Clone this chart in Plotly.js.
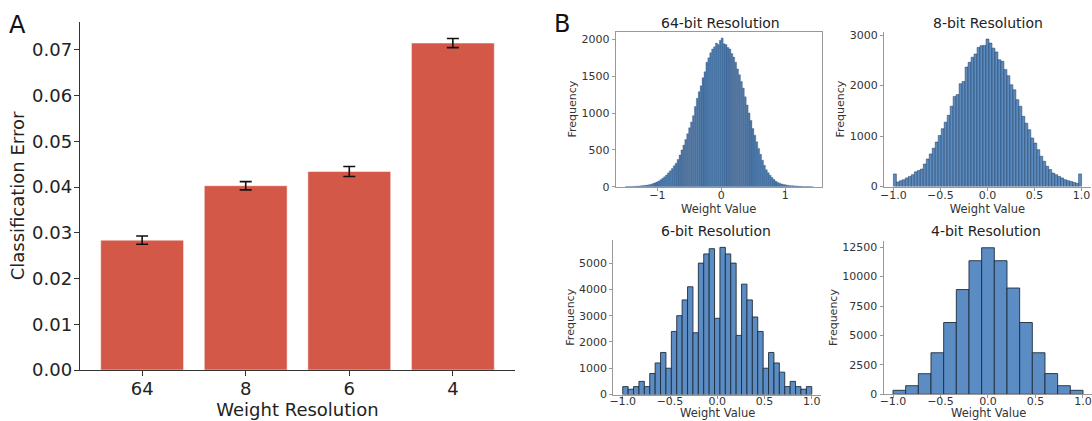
<!DOCTYPE html>
<html><head><meta charset="utf-8">
<script src="https://cdn.plot.ly/plotly-3.0.1.min.js"></script>
<style>html,body{margin:0;padding:0;background:#fff}#chart{width:1092px;height:421px}</style>
</head><body><div id="chart"></div><script>
// ---- Panel A data ----
const resolutions = ['64', '8', '6', '4'];
const classificationError = [0.0284, 0.0403, 0.0434, 0.0715];
const errorBars = [0.0009, 0.0009, 0.0011, 0.0010];

// ---- Panel B data (histogram bin counts) ----
const hist64Start = -1.5;
const hist64Width = 0.03;
const hist64Counts = [2,2,3,4,5,6,8,10,13,15, 18,22,27,33,42,52,63,78,95,115,
  135,160,188,215,248,285,320,370,430,500, 565,640,720,800,880,965,1090,1200,1290,1370,
  1480,1560,1690,1750,1820,1870,1900,1950,1930,1990,
  2020,1940,1930,1890,1870,1810,1760,1690,1600,1520, 1430,1340,1220,1110,1000,900,790,700,610,520,
  440,360,290,230,190,155,125,98,75,58, 46,38,30,25,20,17,14,12,10,8, 7,5,4,3,3,2,2,1];

const hist8Start = -1.0;
const hist8Width = 2 / 63;
const hist8Counts = [250,90,115,135,170,200,235,290,315,345,
  445,545,645,760,880,1010,1145,1275,1410,1590,
  1785,1820,2035,2080,2365,2460,2560,2625,2755,2790,
  2795,2920,2840,2740,2665,2510,2480,2315,2195,2015,
  1915,1720,1590,1390,1255,1125,960,860,730,600,
  500,400,335,265,235,200,170,135,115,100,
  80,65,250];

const hist6Start = -1.0;
const hist6Width = 2 / 35;
const hist6Counts = [300,200,300,500,300,800,1200,1600,1000,2400,3000,3600,4100,2350,5000,5350,5550,2900,
  5600,5350,5000,2250,4200,3600,2950,2400,1000,1600,1200,850,300,500,300,200,300];

const hist4Start = -1.0;
const hist4Width = 2 / 15;
const hist4Counts = [340,730,1750,3530,6100,8900,11350,12450,11350,9030,6100,3530,1760,730,340];

const histTitles = ['64-bit Resolution', '8-bit Resolution', '6-bit Resolution', '4-bit Resolution'];

// ---- drawing ----
const W = 1092, H = 421;
const px = x => x / W;
const py = y => 1 - y / H;
const FONT = 'DejaVu Sans, Liberation Sans, sans-serif';

function histTrace(start, width, counts, xa, ya, lineW, lineC, fill) {
  return {
    type: 'bar', x: counts.map((_, i) => start + (i + 0.5) * width), y: counts,
    width: width, xaxis: xa, yaxis: ya, hoverinfo: 'skip', showlegend: false,
    marker: {color: fill, line: {color: lineC, width: lineW}}
  };
}

const traces = [
  {type: 'bar', x: resolutions, y: classificationError, width: 0.8, xaxis: 'x', yaxis: 'y',
   marker: {color: '#d45848', line: {color: 'rgba(255,255,255,0.5)', width: 1}},
   error_y: {type: 'data', array: errorBars, visible: true, color: '#111', thickness: 1.6, width: 6},
   showlegend: false, hoverinfo: 'skip'},
  histTrace(hist64Start, hist64Width, hist64Counts, 'x2', 'y2', 0.4, 'rgba(40,70,110,0.7)', '#4c7aab'),
  histTrace(hist8Start, hist8Width, hist8Counts, 'x3', 'y3', 0.6, 'rgba(30,50,80,0.8)', '#5a8cc2'),
  histTrace(hist6Start, hist6Width, hist6Counts, 'x4', 'y4', 0.9, '#1e2c3c', '#5b8dc4'),
  histTrace(hist4Start, hist4Width, hist4Counts, 'x5', 'y5', 0.9, '#1e2c3c', '#5b8dc4')
];

const smallAxis = {
  showline: true, linecolor: '#999', linewidth: 1, ticks: 'outside', ticklen: 3, tickcolor: '#999',
  tickfont: {size: 11, color: '#333', family: FONT}, showgrid: false, zeroline: false, fixedrange: true
};
function sx(extra) { return Object.assign({}, smallAxis, extra); }
function xTitle() { return {text: 'Weight Value', font: {size: 11.5, color: '#333'}, standoff: 0}; }
function yTitle() { return {text: 'Frequency', font: {size: 11, color: '#333'}, standoff: 2}; }
function bottomXTitle(xc) {
  return {text: 'Weight Value', x: px(xc), y: 0, xanchor: 'center', yanchor: 'bottom', yshift: -1,
    xref: 'paper', yref: 'paper', showarrow: false, font: {size: 11.5, color: '#333'}};
}

const layout = {
  width: W, height: H, margin: {l: 0, r: 0, t: 0, b: 0}, paper_bgcolor: '#fff', plot_bgcolor: '#fff',
  font: {family: FONT, color: '#222'}, showlegend: false, bargap: 0,
  xaxis: {domain: [px(80), px(515)], anchor: 'y', type: 'category', range: [-0.6, 3.6],
    showline: true, linecolor: '#333', linewidth: 1.2, ticks: 'outside', ticklen: 5, tickcolor: '#333',
    tickfont: {size: 18, color: '#222'}, showgrid: false, zeroline: false, ticklabelstandoff: -3,
    title: {text: 'Weight Resolution', font: {size: 18, color: '#222'}, standoff: 3}},
  yaxis: {domain: [py(370), py(22)], anchor: 'x', range: [0, 0.0761], dtick: 0.01, tickformat: '.2f',
    showline: true, linecolor: '#333', linewidth: 1.2, ticks: 'outside', ticklen: 5, tickcolor: '#333',
    tickfont: {size: 18, color: '#222'}, showgrid: false, zeroline: false, ticklabelstandoff: -2,
    title: {text: 'Classification Error', font: {size: 18, color: '#222'}, standoff: 2}},

  xaxis2: sx({domain: [px(615.7), px(821.7)], anchor: 'y2', range: [-1.65, 1.57], dtick: 1, mirror: true,
    ticklabelstandoff: -5, title: xTitle()}),
  yaxis2: sx({domain: [py(186.7), py(31.7)], anchor: 'x2', range: [0, 2105], dtick: 500, mirror: true,
    tickformat: 'd', title: yTitle()}),

  xaxis3: sx({domain: [px(884), px(1091)], anchor: 'y3', range: [-1.1, 1.1], dtick: 0.5, tickformat: '.1f',
    ticklabelstandoff: -5, title: xTitle()}),
  yaxis3: sx({domain: [py(186.5), py(31.7)], anchor: 'x3', range: [0, 3066], dtick: 1000,
    tickformat: 'd', title: yTitle()}),

  xaxis4: sx({domain: [px(613.3), px(821.2)], anchor: 'y4', range: [-1.1, 1.1], dtick: 0.5, tickformat: '.1f',
    ticklabelstandoff: -7}),
  yaxis4: sx({domain: [py(394.5), py(240)], anchor: 'x4', range: [0, 5880], dtick: 1000,
    tickformat: 'd', title: yTitle()}),

  xaxis5: sx({domain: [px(883.5), px(1092)], anchor: 'y5', range: [-1.1, 1.095], dtick: 0.5, tickformat: '.1f',
    ticklabelstandoff: -7}),
  yaxis5: sx({domain: [py(394.3), py(240.7)], anchor: 'x5', range: [0, 13050], dtick: 2500,
    tickformat: 'd', title: yTitle()}),

  annotations: [
    {text: 'A', x: px(17), y: py(25), xanchor: 'center', yanchor: 'middle', xref: 'paper', yref: 'paper', showarrow: false, font: {size: 24, color: '#111'}},
    {text: 'B', x: px(562), y: py(24), xanchor: 'center', yanchor: 'middle', xref: 'paper', yref: 'paper', showarrow: false, font: {size: 24, color: '#111'}},
    {text: histTitles[0], x: px(720), y: py(23), xanchor: 'center', yanchor: 'middle', xref: 'paper', yref: 'paper', showarrow: false, font: {size: 14, color: '#222'}},
    {text: histTitles[1], x: px(988), y: py(23), xanchor: 'center', yanchor: 'middle', xref: 'paper', yref: 'paper', showarrow: false, font: {size: 14, color: '#222'}},
    {text: histTitles[2], x: px(716), y: py(231), xanchor: 'center', yanchor: 'middle', xref: 'paper', yref: 'paper', showarrow: false, font: {size: 14, color: '#222'}},
    {text: histTitles[3], x: px(986), y: py(231), xanchor: 'center', yanchor: 'middle', xref: 'paper', yref: 'paper', showarrow: false, font: {size: 14, color: '#222'}},
    bottomXTitle(717),
    bottomXTitle(988)
  ]
};

Plotly.newPlot('chart', traces, layout, {displayModeBar: false, staticPlot: true});
</script></body></html>
